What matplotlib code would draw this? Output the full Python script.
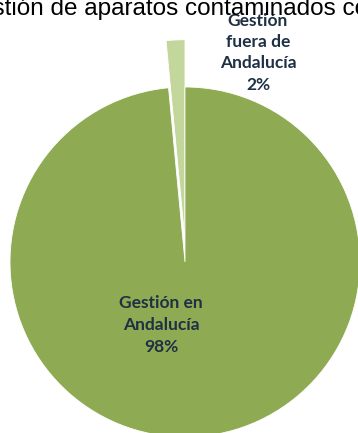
import matplotlib.pyplot as plt

labels = ['Gestión\nfuera de\nAndalucía', 'Gestión en\nAndalucía']
values = [1.5, 98.5]
colors = ['#C3D69B', '#8EAA52']
title = 'Gestión de aparatos contaminados con PCB'

W, H = 358, 433
fig = plt.figure(figsize=(W / 100, H / 100), dpi=100)

# pie centre (185, 262) px from top-left, radius 175 px
cx, cy, r = 185, 262, 175
ax = fig.add_axes([(cx - r) / W, (H - cy - r) / H, 2 * r / W, 2 * r / H])

wedges, _ = ax.pie(values, colors=colors, startangle=90, counterclock=True,
                   radius=1, wedgeprops=dict(edgecolor='white', linewidth=0.6))
# pulled-out slice: shifted straight up and drawn a little larger
wedges[0].set_center((0, 0.12))
wedges[0].set_radius(1.15)
ax.set_xlim(-1, 1)
ax.set_ylim(-1, 1)
ax.set_aspect('equal')
ax.axis('off')

lab_font = dict(family=['Lato', 'DejaVu Sans'], fontweight='bold', fontsize=12.5,
                color='#1F3044', ha='center', va='center')
ax.text(-0.137, -0.36, f'{labels[1]}\n{values[1]:.0f}%', linespacing=1.45, **lab_font)
ax.text(0.417, 1.195, f'{labels[0]}\n{values[0]:.0f}%', linespacing=1.4, clip_on=False,
        **lab_font)

fig.text(-40 / W, 1 - 15 / H, title, fontsize=17.5, family=['Liberation Sans', 'DejaVu Sans'],
         color='black', ha='left', va='baseline')

fig.savefig('out.png', dpi=100)
